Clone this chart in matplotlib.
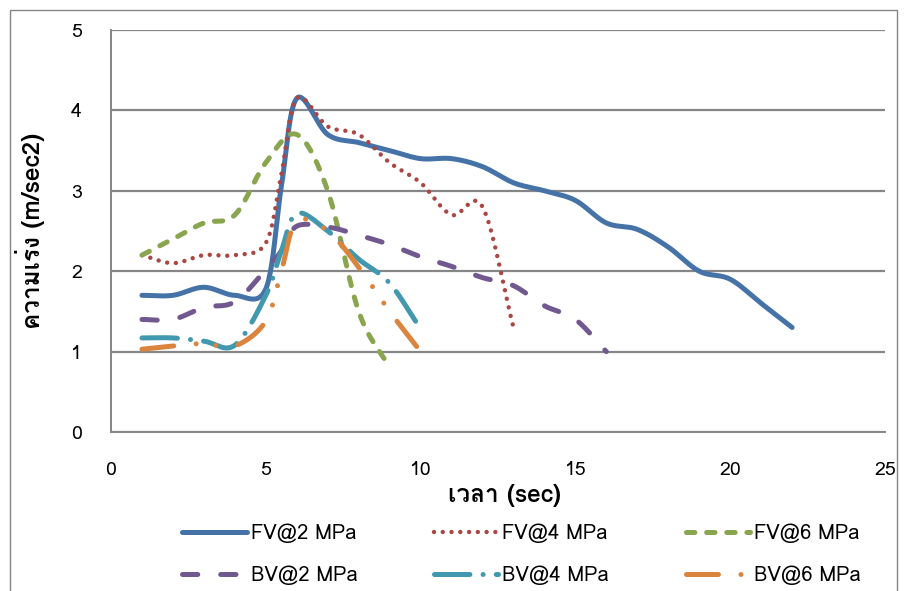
import numpy as np
import matplotlib
matplotlib.use("Agg")
import matplotlib.pyplot as plt
from matplotlib import font_manager
from matplotlib.ft2font import FT2Font
from matplotlib.patches import Rectangle

# data (time in sec, acceleration in m/sec2)
t_fv2 = [1, 2, 3, 4, 5, 5.5, 6, 7, 8, 9, 10, 11, 12, 13, 14, 15, 16, 17, 18, 19, 20, 21, 22]
fv2 = [1.70, 1.70, 1.80, 1.70, 1.78, 3.05, 4.15, 3.70, 3.60, 3.50, 3.40, 3.40,
       3.30, 3.10, 3.00, 2.88, 2.60, 2.52, 2.30, 2.00, 1.90, 1.60, 1.30]
t_fv4 = [1, 2, 3, 4, 5, 5.5, 6, 7, 8, 9, 10, 11, 12, 13]
fv4 = [2.20, 2.10, 2.20, 2.20, 2.35, 3.20, 4.15, 3.80, 3.70, 3.35, 3.10, 2.70, 2.80, 1.30]
t_fv6 = [1, 2, 3, 4, 5, 6, 7, 8, 9]
fv6 = [2.20, 2.40, 2.60, 2.70, 3.35, 3.70, 3.00, 1.50, 0.80]
t_bv2 = [1, 2, 3, 4, 5, 5.5, 6, 7, 8, 9, 10, 11, 12, 13, 14, 15, 16]
bv2 = [1.40, 1.40, 1.55, 1.62, 2.02, 2.25, 2.56, 2.55, 2.45, 2.33, 2.18, 2.06,
       1.92, 1.82, 1.57, 1.40, 1.00]
t_bv4 = [1, 2, 3, 4, 5, 5.5, 6, 7, 8, 9, 10]
bv4 = [1.17, 1.17, 1.13, 1.08, 1.70, 2.25, 2.72, 2.50, 2.15, 1.85, 1.28]
t_bv6 = [1, 2, 3, 4, 5, 5.5, 6, 7, 8, 9, 10]
bv6 = [1.03, 1.07, 1.10, 1.07, 1.38, 2.00, 2.62, 2.50, 2.05, 1.50, 1.00]

labels = ["FV@2 MPa", "FV@4 MPa", "FV@6 MPa", "BV@2 MPa", "BV@4 MPa", "BV@6 MPa"]
x_ticks = [0, 5, 10, 15, 20, 25]
y_ticks = [0, 1, 2, 3, 4, 5]
x_title = "เวลา (sec)"
y_title = "ความเร่ง (m/sec2)"


def find_thai_font():
    # look for any installed font that has thai glyphs
    for f in font_manager.fontManager.ttflist:
        try:
            if 0x0E04 in FT2Font(f.fname).get_charmap():
                return f.name
        except Exception:
            pass
    return None


def smooth(xs, ys, n=40):
    # catmull-rom, close to excel's "smoothed line"
    xs = np.asarray(xs, float)
    ys = np.asarray(ys, float)
    px = np.concatenate([[2 * xs[0] - xs[1]], xs, [2 * xs[-1] - xs[-2]]])
    py = np.concatenate([[2 * ys[0] - ys[1]], ys, [2 * ys[-1] - ys[-2]]])
    ox, oy = [], []
    for i in range(1, len(px) - 2):
        t = np.linspace(0, 1, n, endpoint=(i == len(px) - 3))
        h00 = 2 * t**3 - 3 * t**2 + 1
        h10 = t**3 - 2 * t**2 + t
        h01 = -2 * t**3 + 3 * t**2
        h11 = t**3 - t**2
        mx0, mx1 = (px[i + 1] - px[i - 1]) / 2, (px[i + 2] - px[i]) / 2
        my0, my1 = (py[i + 1] - py[i - 1]) / 2, (py[i + 2] - py[i]) / 2
        ox.append(h00 * px[i] + h10 * mx0 + h01 * px[i + 1] + h11 * mx1)
        oy.append(h00 * py[i] + h10 * my0 + h01 * py[i + 1] + h11 * my1)
    return np.concatenate(ox), np.concatenate(oy)


thai = find_thai_font()
fams = ([thai] if thai else []) + ["DejaVu Sans"]
plt.rcParams["font.family"] = fams
plt.rcParams["lines.scale_dashes"] = False

grey = "#868686"
colors = ["#4572A7", "#AA4643", "#89A54E", "#71588F", "#4198AF", "#DB843D"]
styles = [
    "-",
    (0, (0.01, 6.3)),
    (0, (6.0, 8.5)),
    (0, (11.0, 16.5)),
    (0, (25.5, 9.5, 0.01, 9.5)),
    (0, (23.0, 16.2, 0.01, 14.4, 0.01, 16.2)),
]
widths = [3.6, 3.2, 3.6, 3.6, 3.6, 3.6]

fig = plt.figure(figsize=(9.07, 5.91), dpi=100)
ax = fig.add_axes([111 / 907, 1 - 432 / 591, 774 / 907, 402 / 591])

series = [(t_fv2, fv2), (t_fv4, fv4), (t_fv6, fv6),
          (t_bv2, bv2), (t_bv4, bv4), (t_bv6, bv6)]
lines = []
for (xs, ys), c, ls, lw, lab in zip(series, colors, styles, widths, labels):
    sx, sy = smooth(xs, ys)
    ln, = ax.plot(sx, sy, color=c, linestyle=ls, lw=lw, label=lab,
                  dash_capstyle="round", solid_capstyle="round")
    lines.append(ln)

ax.set_xlim(0, 25)
ax.set_ylim(0, 5)
ax.set_xticks(x_ticks)
ax.set_yticks(y_ticks)
ax.tick_params(length=0, pad=21, labelsize=14, colors="black")
ax.grid(axis="y", color=grey, lw=1.6)
ax.set_axisbelow(True)
for s in ["top", "right"]:
    ax.spines[s].set_visible(False)
for s in ["left", "bottom"]:
    ax.spines[s].set_color(grey)
    ax.spines[s].set_linewidth(1.4)

ax.set_xlabel(x_title, fontsize=17.5, fontweight="bold")
ax.set_ylabel(y_title, fontsize=17.5, fontweight="bold")
ax.xaxis.set_label_coords(0.509, -0.13)
ax.yaxis.set_label_coords(-0.085, 0.5)

# legend fills by column, so reorder to get rows FV / BV
order = [0, 3, 1, 4, 2, 5]
fig.legend([lines[i] for i in order], [labels[i] for i in order],
           loc="center", bbox_to_anchor=(0.575, 0.0626), ncol=3, frameon=False,
           fontsize=14.5, handlelength=3.2, handletextpad=0.2,
           columnspacing=3.8, labelspacing=1.1)

fig.add_artist(Rectangle((10 / 907, -0.05), 887 / 907, 1.05 - 10 / 591,
                         transform=fig.transFigure, fill=False,
                         edgecolor=grey, lw=1.0))

fig.savefig("out.png", dpi=100)
